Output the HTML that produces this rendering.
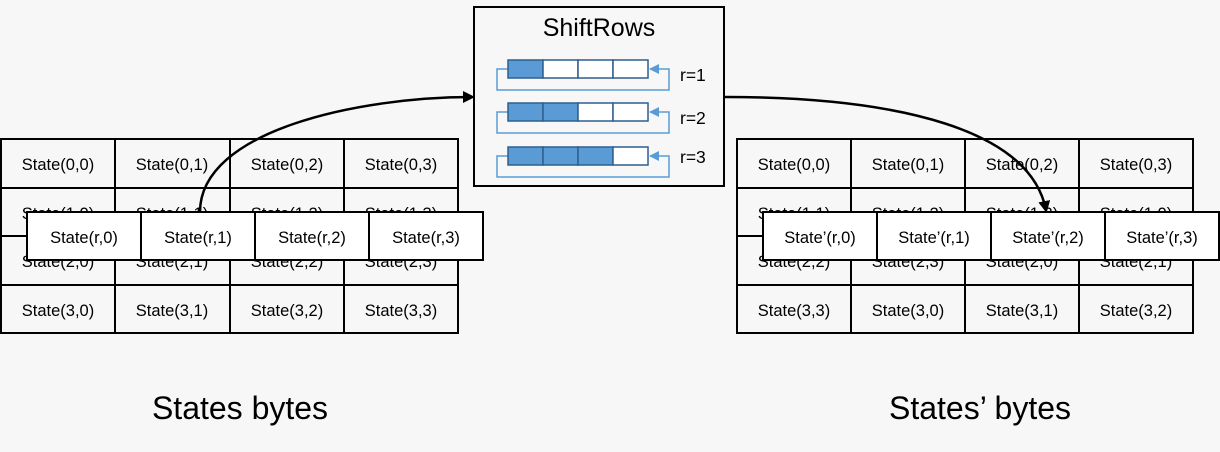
<!DOCTYPE html>
<html><head><meta charset="utf-8"><style>
html,body{margin:0;padding:0;background:#f7f7f7;}
svg{display:block;font-family:"Liberation Sans",sans-serif;}
</style></head><body>
<svg width="1220" height="452" viewBox="0 0 1220 452" xmlns="http://www.w3.org/2000/svg">
<defs>
<marker id="ah" markerWidth="12" markerHeight="12" refX="9" refY="6" orient="auto" markerUnits="userSpaceOnUse"><path d="M0,0 L12,6 L0,12 z" fill="#000"/></marker>
<marker id="bh" markerWidth="10" markerHeight="10" refX="9" refY="5" orient="auto" markerUnits="userSpaceOnUse"><path d="M0,0 L10,5 L0,10 z" fill="#5b9bd5"/></marker>
</defs>
<rect width="1220" height="452" fill="#f7f7f7"/>
<g stroke="#000" stroke-width="2" fill="#f7f7f7">
<rect x="1" y="139" width="457" height="194"/>
<line x1="115" y1="139" x2="115" y2="333"/><line x1="230" y1="139" x2="230" y2="333"/><line x1="344" y1="139" x2="344" y2="333"/>
<line x1="1" y1="188" x2="458" y2="188"/><line x1="1" y1="236" x2="458" y2="236"/><line x1="1" y1="285" x2="458" y2="285"/>
<rect x="737" y="139" width="456" height="194"/>
<line x1="851" y1="139" x2="851" y2="333"/><line x1="965" y1="139" x2="965" y2="333"/><line x1="1079" y1="139" x2="1079" y2="333"/>
<line x1="737" y1="188" x2="1193" y2="188"/><line x1="737" y1="236" x2="1193" y2="236"/><line x1="737" y1="285" x2="1193" y2="285"/>
</g>
<g font-size="16.5" text-anchor="middle" fill="#000">
<text x="58" y="170">State(0,0)</text><text x="172" y="170">State(0,1)</text><text x="287" y="170">State(0,2)</text><text x="401" y="170">State(0,3)</text>
<text x="58" y="219">State(1,0)</text><text x="172" y="219">State(1,1)</text><text x="287" y="219">State(1,2)</text><text x="401" y="219">State(1,3)</text>
<text x="58" y="267">State(2,0)</text><text x="172" y="267">State(2,1)</text><text x="287" y="267">State(2,2)</text><text x="401" y="267">State(2,3)</text>
<text x="58" y="316">State(3,0)</text><text x="172" y="316">State(3,1)</text><text x="287" y="316">State(3,2)</text><text x="401" y="316">State(3,3)</text>
<text x="794" y="170">State(0,0)</text><text x="908" y="170">State(0,1)</text><text x="1022" y="170">State(0,2)</text><text x="1136" y="170">State(0,3)</text>
<text x="794" y="219">State(1,1)</text><text x="908" y="219">State(1,2)</text><text x="1022" y="219">State(1,3)</text><text x="1136" y="219">State(1,0)</text>
<text x="794" y="267">State(2,2)</text><text x="908" y="267">State(2,3)</text><text x="1022" y="267">State(2,0)</text><text x="1136" y="267">State(2,1)</text>
<text x="794" y="316">State(3,3)</text><text x="908" y="316">State(3,0)</text><text x="1022" y="316">State(3,1)</text><text x="1136" y="316">State(3,2)</text>
</g>
<g stroke="#000" stroke-width="2" fill="#fff">
<rect x="27" y="212" width="456" height="48"/>
<line x1="141" y1="212" x2="141" y2="260"/><line x1="255" y1="212" x2="255" y2="260"/><line x1="369" y1="212" x2="369" y2="260"/>
<rect x="763" y="212" width="456" height="48"/>
<line x1="877" y1="212" x2="877" y2="260"/><line x1="991" y1="212" x2="991" y2="260"/><line x1="1105" y1="212" x2="1105" y2="260"/>
</g>
<g font-size="16.5" text-anchor="middle" fill="#000">
<text x="84" y="243">State(r,0)</text><text x="198" y="243">State(r,1)</text><text x="312" y="243">State(r,2)</text><text x="426" y="243">State(r,3)</text>
<text x="820" y="243">State’(r,0)</text><text x="934" y="243">State’(r,1)</text><text x="1048" y="243">State’(r,2)</text><text x="1162" y="243">State’(r,3)</text>
</g>
<rect x="474" y="7" width="250" height="179" fill="#f7f7f7" stroke="#000" stroke-width="2"/>
<text x="599" y="36" font-size="25" text-anchor="middle">ShiftRows</text>
<g stroke-width="1.5" fill="none" stroke="#5b9bd5">
<path d="M508,69 H497 V90 H669 V69 H650" marker-end="url(#bh)"/>
<path d="M508,112 H497 V133 H669 V112 H650" marker-end="url(#bh)"/>
<path d="M508,156 H497 V177 H669 V156 H650" marker-end="url(#bh)"/>
</g>
<g stroke="#2e5f8f" stroke-width="1.5">
<rect x="508" y="60" width="35" height="18" fill="#5b9bd5"/><rect x="543" y="60" width="35" height="18" fill="#fff"/><rect x="578" y="60" width="35" height="18" fill="#fff"/><rect x="613" y="60" width="35" height="18" fill="#fff"/>
<rect x="508" y="103" width="35" height="18" fill="#5b9bd5"/><rect x="543" y="103" width="35" height="18" fill="#5b9bd5"/><rect x="578" y="103" width="35" height="18" fill="#fff"/><rect x="613" y="103" width="35" height="18" fill="#fff"/>
<rect x="508" y="147" width="35" height="18" fill="#5b9bd5"/><rect x="543" y="147" width="35" height="18" fill="#5b9bd5"/><rect x="578" y="147" width="35" height="18" fill="#5b9bd5"/><rect x="613" y="147" width="35" height="18" fill="#fff"/>
</g>
<g font-size="17.5" fill="#000">
<text x="680" y="81">r=1</text><text x="680" y="124">r=2</text><text x="680" y="163">r=3</text>
</g>
<g stroke="#000" stroke-width="2.5" fill="none">
<path d="M200,212 C200,130 360,97 472,97" marker-end="url(#ah)"/>
<path d="M724,97 C900,97 1030,130 1046,210" marker-end="url(#ah)"/>
</g>
<text x="240" y="419" font-size="32" text-anchor="middle">States bytes</text>
<text x="980" y="419" font-size="32" text-anchor="middle">States’ bytes</text>
</svg>
</body></html>
